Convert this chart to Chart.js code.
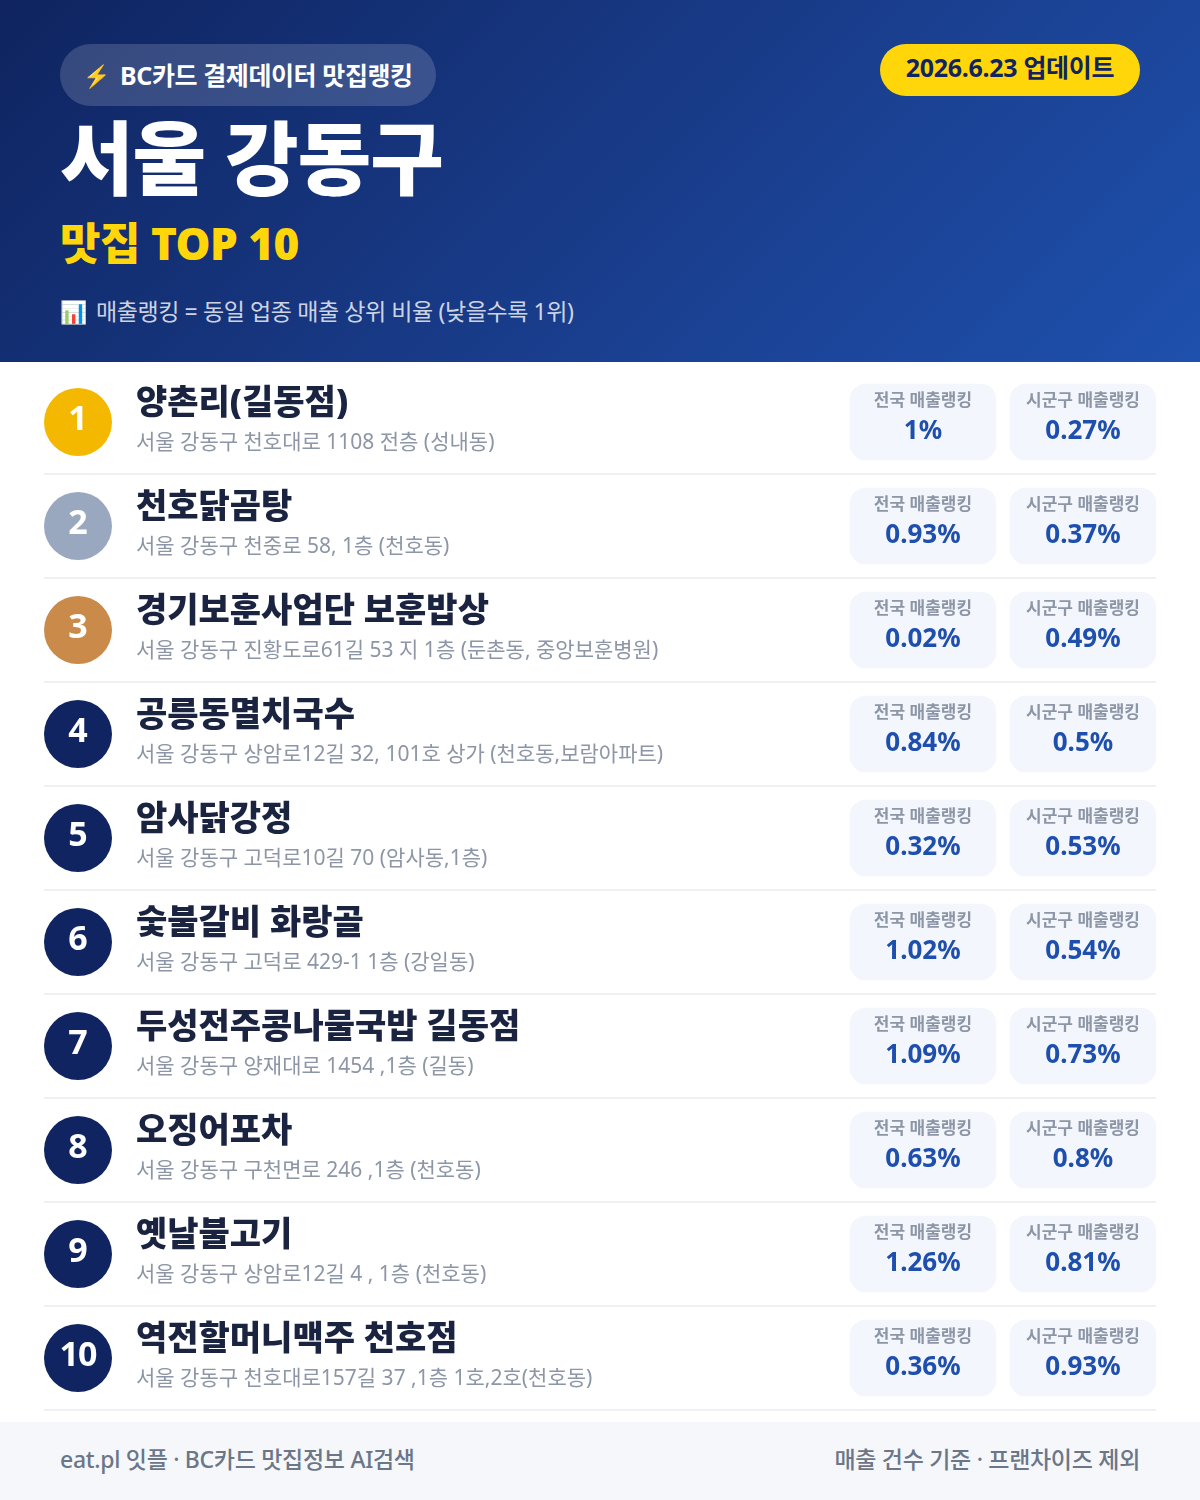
<!DOCTYPE html>
<html lang="ko">
<head>
<meta charset="utf-8">
<title>서울 강동구 맛집 TOP 10</title>
<script src="https://cdn.jsdelivr.net/npm/chart.js@4"></script>
<style>
  html, body { margin: 0; padding: 0; background: #fff; }
  body { width: 1200px; height: 1500px; position: relative; overflow: hidden; font-family: "Noto Sans", "Noto Sans CJK KR", sans-serif; }
  .head { position: absolute; left: 0; top: 0; width: 1200px; height: 362px; background: linear-gradient(135deg, #0f2460 0%, #1a3f8f 60%, #1e50ad 100%); }
  .head div { position: absolute; white-space: nowrap; }
  .badge { left: 60px; top: 44px; width: 376px; height: 62px; border-radius: 31px; background: rgba(255,255,255,.16); }
  .badge-icon { left: 83px; top: 60px; font-size: 22px; line-height: 30px; }
  .badge-text { left: 120px; top: 56px; font-size: 25px; line-height: 38px; font-weight: 700; color: #fff; letter-spacing: -0.4px; }
  .date { left: 880px; top: 44px; width: 260px; height: 52px; border-radius: 26px; background: #ffd60a; color: #0f2460; font-size: 25px; line-height: 47px; font-weight: 700; text-align: center; letter-spacing: -0.3px; }
  .title { left: 60px; top: 97px; font-size: 80px; line-height: 120px; font-weight: 900; color: #fff; letter-spacing: -1px; }
  .sub { left: 60px; top: 211px; font-size: 44px; line-height: 64px; font-weight: 900; color: #ffd60a; letter-spacing: -0.5px; }
  .note-icon { left: 60px; top: 296px; font-size: 22px; line-height: 30px; }
  .note { left: 96px; top: 293px; font-size: 23px; line-height: 36px; color: rgba(255,255,255,.8); letter-spacing: -0.4px; }
  #list { position: absolute; left: 0; top: 362px; }
  .foot { position: absolute; left: 0; top: 1422px; width: 1200px; height: 78px; background: #f5f7fb; color: #6b7688; font-size: 23px; line-height: 74px; font-weight: 500; letter-spacing: -0.3px; }
  .foot span { position: absolute; white-space: nowrap; }
</style>
</head>
<body>
<div class="head">
  <div class="badge"></div>
  <div class="badge-icon">⚡</div>
  <div class="badge-text">BC카드 결제데이터 맛집랭킹</div>
  <div class="date">2026.6.23 업데이트</div>
  <div class="title">서울 강동구</div>
  <div class="sub">맛집 TOP 10</div>
  <div class="note-icon">📊</div>
  <div class="note">매출랭킹 = 동일 업종 매출 상위 비율 (낮을수록 1위)</div>
</div>
<canvas id="list" width="1200" height="1060"></canvas>
<div class="foot">
  <span style="left:60px">eat.pl 잇플 · BC카드 맛집정보 AI검색</span>
  <span style="right:60px">매출 건수 기준 · 프랜차이즈 제외</span>
</div>
<script>
const ranks = [1, 2, 3, 4, 5, 6, 7, 8, 9, 10];
const names = ["양촌리(길동점)", "천호닭곰탕", "경기보훈사업단 보훈밥상", "공릉동멸치국수", "암사닭강정", "숯불갈비 화랑골", "두성전주콩나물국밥 길동점", "오징어포차", "옛날불고기", "역전할머니맥주 천호점"];
const addresses = [
  "서울 강동구 천호대로 1108 전층 (성내동)",
  "서울 강동구 천중로 58, 1층 (천호동)",
  "서울 강동구 진황도로61길 53 지 1층 (둔촌동, 중앙보훈병원)",
  "서울 강동구 상암로12길 32, 101호 상가 (천호동,보람아파트)",
  "서울 강동구 고덕로10길 70 (암사동,1층)",
  "서울 강동구 고덕로 429-1 1층 (강일동)",
  "서울 강동구 양재대로 1454 ,1층 (길동)",
  "서울 강동구 구천면로 246 ,1층 (천호동)",
  "서울 강동구 상암로12길 4 , 1층 (천호동)",
  "서울 강동구 천호대로157길 37 ,1층 1호,2호(천호동)"
];
const nationalRank = [1, 0.93, 0.02, 0.84, 0.32, 1.02, 1.09, 0.63, 1.26, 0.36];
const districtRank = [0.27, 0.37, 0.49, 0.5, 0.53, 0.54, 0.73, 0.8, 0.81, 0.93];
const nationalLabel = "전국 매출랭킹";
const districtLabel = "시군구 매출랭킹";

const medalColors = { 1: '#f4b800', 2: '#9aa8bf', 3: '#c98a4a' };
const navy = '#0f2460';
const fontStack = '"Noto Sans", "Noto Sans CJK KR"';

// the x axis runs in page pixels, so the columns
const rankX = 78, textX = 136;
const natCol = [850, 996], distCol = [1010, 1156];

const rowText = {
  id: 'rowText',
  afterDatasetsDraw(chart) {
    const { ctx, scales: { x, y } } = chart;
    ctx.save();
    ctx.textBaseline = 'middle';
    names.forEach((name, i) => {
      const cy = y.getPixelForValue(i);

      ctx.textAlign = 'center';
      ctx.fillStyle = '#fff';
      ctx.font = '700 34px ' + fontStack;
      ctx.letterSpacing = ranks[i] === 10 ? '-1px' : '0px';
      ctx.fillText(ranks[i], x.getPixelForValue(rankX), cy - 2);

      ctx.textAlign = 'left';
      ctx.fillStyle = '#1a2340';
      ctx.font = '900 34px ' + fontStack;
      ctx.letterSpacing = '0px';
      ctx.fillText(name, x.getPixelForValue(textX), cy - 18);

      ctx.fillStyle = '#8d96a6';
      ctx.font = '400 21px ' + fontStack;
      ctx.letterSpacing = '0px';
      ctx.fillText(addresses[i], x.getPixelForValue(textX), cy + 21);

      ctx.textAlign = 'center';
      [[natCol, nationalLabel, nationalRank[i]], [distCol, districtLabel, districtRank[i]]].forEach(([col, label, val]) => {
        const mid = x.getPixelForValue((col[0] + col[1]) / 2);
        ctx.fillStyle = '#8d96a6';
        ctx.font = '700 17px ' + fontStack;
        ctx.letterSpacing = '0px';
        ctx.fillText(label, mid, cy - 21);
        ctx.fillStyle = '#1e4fad';
        ctx.font = '700 26px ' + fontStack;
        ctx.letterSpacing = '0px';
        ctx.fillText(val + '%', mid, cy + 10);
      });
    });
    ctx.restore();
  }
};

new Chart(document.getElementById('list'), {
  type: 'bar',
  data: {
    labels: names,
    datasets: [
      {
        label: 'rank',
        type: 'line',
        showLine: false,
        clip: false,
        data: ranks.map((r, i) => ({ x: rankX, y: names[i] })),
        pointRadius: 34,
        pointHoverRadius: 34,
        pointBorderWidth: 0,
        pointBackgroundColor: ranks.map(r => medalColors[r] || navy)
      },
      {
        label: nationalLabel,
        data: nationalRank.map(() => natCol),
        backgroundColor: '#f3f6fc',
        borderRadius: 16,
        borderSkipped: false,
        barThickness: 76,
        grouped: false
      },
      {
        label: districtLabel,
        data: districtRank.map(() => distCol),
        backgroundColor: '#f3f6fc',
        borderRadius: 16,
        borderSkipped: false,
        barThickness: 76,
        grouped: false
      }
    ]
  },
  options: {
    indexAxis: 'y',
    responsive: false,
    animation: false,
    layout: { autoPadding: false, padding: { left: 44, right: 44, top: 8, bottom: 12 } },
    plugins: { legend: { display: false }, tooltip: { enabled: false } },
    scales: {
      x: { type: 'linear', min: 44, max: 1156, display: false },
      y: {
        type: 'category',
        offset: true,
        border: { display: false },
        ticks: { display: false },
        grid: {
          offset: true,
          drawTicks: false,
          lineWidth: 2,
          color: c => c.index === 0 ? 'transparent' : '#eef0f3'
        }
      }
    }
  },
  plugins: [rowText]
});
</script>
</body>
</html>
